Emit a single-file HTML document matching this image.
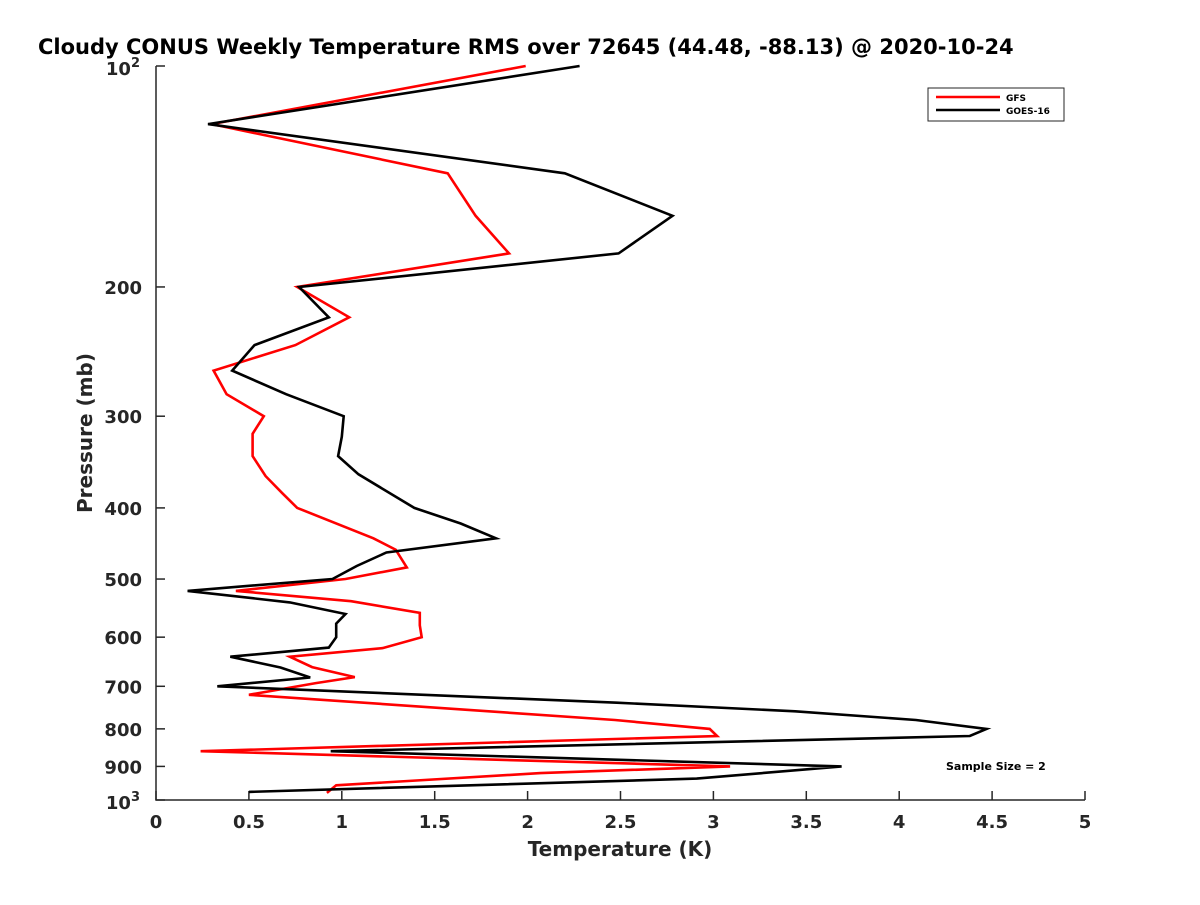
<!DOCTYPE html>
<html><head><meta charset="utf-8"><style>
body{margin:0;background:#fff;}
svg text{font-family:"DejaVu Sans","Liberation Sans",sans-serif;font-weight:bold;fill:#262626;}
</style></head><body>
<svg id="chart" width="1200" height="900">
<rect width="1200" height="900" fill="#fff"/>
<text x="38" y="54" font-size="21" style="fill:#000">Cloudy CONUS Weekly Temperature RMS over 72645 (44.48, -88.13) @ 2020-10-24</text>
<g id="axes"></g>
<g id="series"></g>
<text x="620" y="856" font-size="20" text-anchor="middle">Temperature (K)</text>
<text transform="translate(92,433) rotate(-90)" font-size="20" text-anchor="middle">Pressure (mb)</text>
<text x="946" y="770" font-size="11" style="fill:#000">Sample Size = 2</text>
<g>
<rect x="928" y="88" width="136" height="33" fill="#fff" stroke="#262626" stroke-width="1"/>
<line x1="936" y1="97" x2="1000" y2="97" stroke="#f00" stroke-width="2.5"/>
<text x="1006" y="101" font-size="9" style="fill:#000">GFS</text>
<line x1="936" y1="110" x2="1000" y2="110" stroke="#000" stroke-width="2.5"/>
<text x="1006" y="114" font-size="9" style="fill:#000">GOES-16</text>
</g>
</svg>
<script>
const xTicks=[0,0.5,1,1.5,2,2.5,3,3.5,4,4.5,5];
const yTicks=[200,300,400,500,600,700,800,900];
const gfsP=[100,120,140,160,180,200,220,240,260,280,300,317,340,362,382,400,440,456,482,500,519,536,556,578,600,621,638,659,680,693,719,778,800,818,858,900,919,955,978];
const gfsT=[1.99,0.30,1.57,1.72,1.90,0.76,1.04,0.75,0.31,0.38,0.58,0.52,0.52,0.59,0.68,0.76,1.17,1.29,1.35,1.02,0.43,1.05,1.42,1.42,1.43,1.22,0.72,0.84,1.07,0.86,0.50,2.47,2.98,3.02,0.24,3.09,2.07,0.97,0.92];
const goesP=[100,120,140,160,180,200,220,240,260,280,300,320,340,360,400,420,440,460,480,500,519,538,558,575,600,620,638,660,681,700,737,757,778,800,818,858,900,935,975];
const goesT=[2.28,0.28,2.20,2.78,2.49,0.77,0.93,0.53,0.41,0.70,1.01,1.00,0.98,1.09,1.39,1.64,1.83,1.24,1.08,0.95,0.17,0.72,1.02,0.97,0.97,0.93,0.40,0.67,0.83,0.33,2.48,3.44,4.09,4.47,4.38,0.94,3.69,2.91,0.50];
const NS="http://www.w3.org/2000/svg";
const X0=156,X1=1085,Y0=66,Y1=800;
const xs=t=>X0+(t/5)*(X1-X0);
const ys=p=>Y0+(Math.log10(p)-2)*(Y1-Y0);
const axes=document.getElementById('axes');
function mk(tag,attrs,parent){const e=document.createElementNS(NS,tag);for(const k in attrs)e.setAttribute(k,attrs[k]);parent.appendChild(e);return e;}
const ax=mk('path',{d:`M${X0},${Y0}V${Y1}H${X1}`,fill:'none',stroke:'#262626','stroke-width':1.5},axes);


xTicks.forEach(t=>{
 const x=xs(t);
 const l=mk('line',{x1:x,x2:x,y1:Y1,y2:Y1-9,stroke:'#262626','stroke-width':1.5},axes);
 
 
 const tx=mk('text',{x:x,y:Y1+28,'font-size':18,'text-anchor':'middle'},axes);
 tx.textContent=String(t);
 
 
});
[100,1000].concat(yTicks).forEach(p=>{
 const y=ys(p);
 const l=mk('line',{x1:X0,x2:X0+9,y1:y,y2:y,stroke:'#262626','stroke-width':1.5},axes);
 
 
});
yTicks.forEach(p=>{
 const tx=mk('text',{x:X0-14,y:ys(p)+7,'font-size':18,'text-anchor':'end'},axes);
 tx.textContent=String(p);
 
 
});
[[100,'2'],[1000,'3']].forEach(([p,e])=>{
 const tx=mk('text',{x:X0-16,y:ys(p)+9,'font-size':18,'text-anchor':'end'},axes);
 tx.innerHTML='10<tspan dy="-8" font-size="13">'+e+'</tspan>';
 
 
});
const ser=document.getElementById('series');
function line(P,T,color,name){
 const d=P.map((p,i)=>(i?'L':'M')+xs(T[i]).toFixed(1)+','+ys(p).toFixed(1)).join('');
 const e=mk('path',{d:d,fill:'none',stroke:color,'stroke-width':2.6,'stroke-linejoin':'miter'},ser);
 
 
}
line(gfsP,gfsT,'#f00','gfs-line');
line(goesP,goesT,'#000','goes16-line');
</script>
</body></html>
